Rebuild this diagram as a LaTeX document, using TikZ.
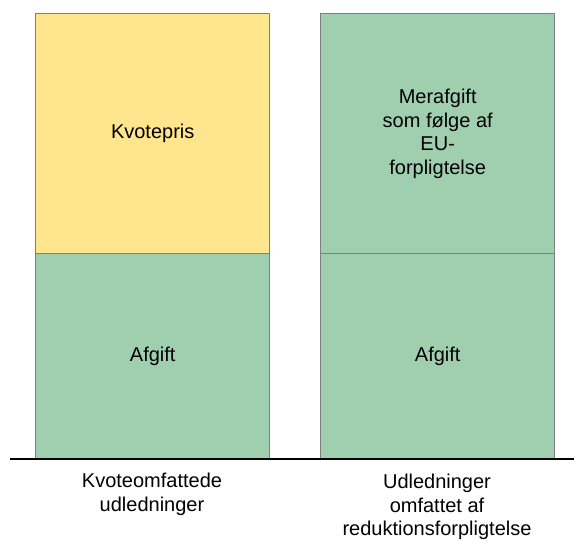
\documentclass[tikz,border=0pt]{standalone}
\usepackage{fontspec}
\setmainfont{Liberation Sans}
\definecolor{kyellow}{HTML}{FFE68E}
\definecolor{kgreen}{HTML}{A0CFB0}
\definecolor{kborder}{HTML}{7F7F7F}
\begin{document}
\begin{tikzpicture}[x=1pt,y=-1pt,
  bar/.style={draw=kborder, line width=1.4pt, minimum width=234pt, inner sep=0pt, anchor=north west, font=\fontsize{20}{23.7}\selectfont, align=center},
  lbl/.style={font=\fontsize{20}{23.5}\selectfont, align=center, inner sep=0pt}]
\useasboundingbox (0,0) rectangle (574,545);
\node[bar, fill=kyellow, minimum height=240pt] (kq) at (35,13) {Kvotepris};
\node[bar, fill=kgreen, minimum height=206pt] (ka) at (35,253) {Afgift};
\node[bar, fill=kgreen, minimum height=240pt] (mq) at (320,13) {Merafgift\\som følge af\\EU-\\forpligtelse};
\node[bar, fill=kgreen, minimum height=206pt] (ma) at (320,253) {Afgift};
\coordinate (bl) at (10,459);
\coordinate (br) at (574,459);
\draw[line width=1.4pt] (bl) -- (br);
\node[lbl, anchor=north] (l1) at (152,473) {Kvoteomfattede\\udledninger};
\node[lbl, anchor=north] (l2) at (437,474) {Udledninger\\omfattet af\\reduktionsforpligtelse};
\end{tikzpicture}
\end{document}
